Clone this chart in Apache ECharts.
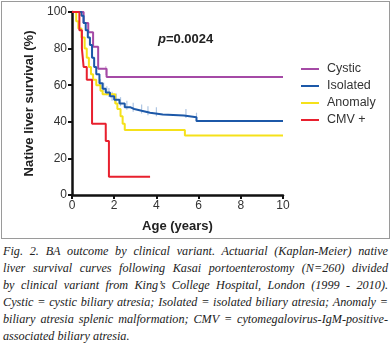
<!DOCTYPE html>
<html>
<head>
<meta charset="utf-8">
<script src="https://cdn.jsdelivr.net/npm/echarts@6/dist/echarts.min.js"></script>
<style>
  body { margin: 0; background: #fff; width: 391px; height: 352px; overflow: hidden; position: relative; }
  #frame { position: absolute; left: 1px; top: 1px; width: 387px; height: 236px; border: 1px solid #9a9a9a; }
  #chart { width: 387px; height: 236px; }
  #caption { position: absolute; left: 3px; top: 243px; width: 385px;
    font-family: "Liberation Serif", "DejaVu Serif", serif; font-style: italic;
    font-size: 12.2px; line-height: 17px; color: #222; }
  #caption div { text-align: justify; text-align-last: justify; white-space: nowrap; }
  #caption div.last { text-align-last: left; }
</style>
</head>
<body>
<div id="frame"><div id="chart"></div></div>
<div id="caption">
  <div>Fig. 2. BA outcome by clinical variant. Actuarial (Kaplan-Meier) native</div>
  <div>liver survival curves following Kasai portoenterostomy (N=260) divided</div>
  <div>by clinical variant from King’s College Hospital, London (1999 - 2010).</div>
  <div>Cystic = cystic biliary atresia; Isolated = isolated biliary atresia; Anomaly =</div>
  <div>biliary atresia splenic malformation; CMV = cytomegalovirus-IgM-positive-</div>
  <div class="last">associated biliary atresia.</div>
</div>
<script>
// survival steps: [age in years, % surviving]
var cystic = [[0,100],[0.55,94],[0.77,89],[1.0,81],[1.24,69],[1.64,64.5],[10,64.5]];
var isolated = [[0,100],[0.45,98],[0.55,94],[0.65,90],[0.75,86],[0.85,82],[0.95,75],[1.05,70],
  [1.15,66],[1.3,61],[1.45,58],[1.6,56],[1.8,54],[2.0,52],[2.25,50],[2.5,48],[2.75,47],[2.95,46],
  [3.3,45],[3.7,44],[4.3,43.5],[5.3,42.5],[5.9,40.5],[10,40.5]];
var anomaly = [[0,100],[0.2,95],[0.3,91],[0.45,86],[0.6,80],[0.7,75],[0.8,70],[0.9,66],[1.0,63],
  [1.15,60],[1.35,57],[1.45,55],[2.05,50],[2.15,47],[2.3,43],[2.4,39],[2.5,35.5],[5.35,32.5],[10,32.5]];
var cmv = [[0,100],[0.35,90],[0.47,80],[0.55,70],[0.7,63],[0.95,39],[1.6,29.5],[1.75,10],[3.7,10]];

// censored observations (small vertical ticks)
var isolatedCensor = [[1.35,61],[1.5,59],[1.65,57],[1.75,56],[1.9,54],[2.1,53],[2.3,51],[2.6,49],
  [2.9,48],[3.3,47],[3.6,46],[4.0,45.5],[5.4,44.5],[5.9,42.5]];
var cysticCensor = [[1.6,68]];
var cmvCensor = [[1.6,32]];

var names = ['Cystic', 'Isolated', 'Anomaly', 'CMV +'];
var colors = ['#a54aa6', '#1c58a8', '#f5e11a', '#e8202e'];

function stepSeries(name, data, color) {
  return {
    name: name, type: 'line', step: 'end', data: data,
    symbol: 'none', lineStyle: { color: color, width: 2 }, itemStyle: { color: color },
    animation: false
  };
}
function censorSeries(data, color) {
  return {
    type: 'scatter', data: data, symbol: 'rect', symbolSize: [1.2, 9],
    itemStyle: { color: color, opacity: 0.6 }, silent: true, animation: false
  };
}

var myChart = echarts.init(document.getElementById('chart'));
myChart.setOption({
  title: {
    text: '{i|p}=0.0024', left: 151, top: 26,
    textStyle: {
      fontFamily: 'Liberation Sans', fontSize: 13, fontWeight: 'bold', color: '#222',
      rich: { i: { fontFamily: 'Liberation Sans', fontSize: 13, fontWeight: 'bold', fontStyle: 'italic', color: '#222' } }
    }
  },
  legend: {
    data: names, orient: 'vertical', left: 294, top: 55,
    icon: 'rect', itemWidth: 18, itemHeight: 2, itemGap: 3,
    textStyle: { fontFamily: 'Liberation Sans', fontSize: 12.5, color: '#333', lineHeight: 14, padding: [0, 0, 0, 3] }
  },
  grid: { left: 70, right: 106, top: 10, bottom: 43 },
  xAxis: {
    type: 'value', min: 0, max: 10, interval: 2,
    name: 'Age (years)', nameLocation: 'middle', nameGap: 25,
    nameTextStyle: { fontFamily: 'Liberation Sans', fontSize: 13, fontWeight: 'bold', color: '#222' },
    axisLine: { lineStyle: { color: '#111', width: 2.5 } },
    axisTick: { length: 4, lineStyle: { width: 2, color: '#111' } },
    axisLabel: { fontFamily: 'Liberation Sans', fontSize: 12, color: '#333', margin: 5 },
    splitLine: { show: false }
  },
  yAxis: {
    type: 'value', min: 0, max: 100, interval: 20,
    name: 'Native liver survival (%)', nameLocation: 'middle', nameGap: 36, nameRotate: 90,
    nameTextStyle: { fontFamily: 'Liberation Sans', fontSize: 13, fontWeight: 'bold', color: '#222' },
    axisLine: { show: true, lineStyle: { color: '#111', width: 2.5 } },
    axisTick: { show: true, length: 4, lineStyle: { width: 2, color: '#111' } },
    axisLabel: { fontFamily: 'Liberation Sans', fontSize: 12, color: '#333', margin: 5 },
    splitLine: { show: false }
  },
  series: [
    censorSeries(isolatedCensor, '#7aa0d0'),
    censorSeries(cysticCensor, '#c890c8'),
    censorSeries(cmvCensor, '#f08080'),
    stepSeries(names[0], cystic, colors[0]),
    stepSeries(names[2], anomaly, colors[2]),
    stepSeries(names[1], isolated, colors[1]),
    stepSeries(names[3], cmv, colors[3])
  ]
});
</script>
</body>
</html>
